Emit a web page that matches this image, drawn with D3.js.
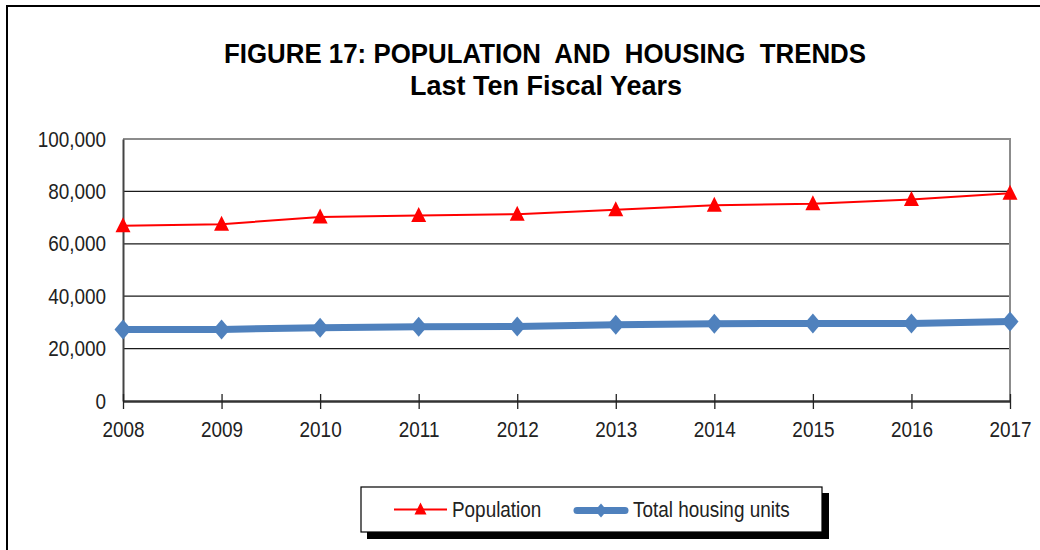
<!DOCTYPE html>
<html>
<head>
<meta charset="utf-8">
<script src="https://cdn.jsdelivr.net/npm/d3@7"></script>
<style>
  html, body { margin: 0; padding: 0; background: #fff; }
  svg { display: block; font-family: Arial, "Liberation Sans", sans-serif; }
</style>
</head>
<body>
<svg id="chart" width="1040" height="550"></svg>
<script>
// Fiscal years and series values
const years = ["2008", "2009", "2010", "2011", "2012", "2013", "2014", "2015", "2016", "2017"];
const population = [66900, 67500, 70200, 70800, 71300, 73000, 74700, 75300, 76900, 79300];
const housingUnits = [27300, 27300, 28000, 28300, 28400, 29100, 29500, 29600, 29600, 30300];
const yTicks = [0, 20000, 40000, 60000, 80000, 100000];

const svg = d3.select("#chart");
const labelFont = 22;   // axis and legend text size
const squeeze = 0.86;   // horizontal narrowing of axis/legend text

// outer frame (top and left edges)
svg.append("path")
  .attr("d", "M7,550 V6 H1040")
  .attr("fill", "none")
  .attr("stroke", "#000")
  .attr("stroke-width", 2);

// titles
svg.append("text")
  .attr("x", 545).attr("y", 62.5)
  .attr("text-anchor", "middle")
  .attr("font-size", 27).attr("font-weight", "bold")
  .attr("textLength", 642).attr("lengthAdjust", "spacingAndGlyphs")
  .attr("xml:space", "preserve")
  .style("white-space", "pre")
  .text("FIGURE 17: POPULATION  AND  HOUSING  TRENDS");
svg.append("text")
  .attr("x", 546).attr("y", 95)
  .attr("text-anchor", "middle")
  .attr("font-size", 27).attr("font-weight", "bold")
  .attr("textLength", 272).attr("lengthAdjust", "spacingAndGlyphs")
  .text("Last Ten Fiscal Years");

const plotLeft = 123, plotRight = 1010, plotTop = 139, plotBottom = 401;
const x = d3.scalePoint().domain(years).range([plotLeft, plotRight]);
const y = d3.scaleLinear().domain([0, 100000]).range([plotBottom, plotTop]);

// horizontal gridlines
svg.append("g")
  .selectAll("line")
  .data(yTicks.filter(d => d > 0 && d < 100000))
  .join("line")
  .attr("x1", plotLeft).attr("x2", plotRight)
  .attr("y1", d => y(d)).attr("y2", d => y(d))
  .attr("stroke", "#1a1a1a").attr("stroke-width", 1.3);

// plot area border (top and right)
svg.append("path")
  .attr("d", `M${plotLeft},${y(100000)} H${plotRight} V${plotBottom}`)
  .attr("fill", "none")
  .attr("stroke", "#8c8c8c").attr("stroke-width", 2);

// y axis
const yPad = 17;
const yAxis = svg.append("g")
  .attr("transform", `translate(${plotLeft},0)`)
  .call(d3.axisLeft(y).tickValues(yTicks).tickSize(0).tickPadding(yPad)
    .tickFormat(d3.format(",")));
yAxis.select(".domain").attr("stroke", "#444").attr("stroke-width", 2);
yAxis.selectAll("text")
  .attr("font-size", labelFont).attr("fill", "#222")
  .attr("font-family", "Arial, 'Liberation Sans', sans-serif")
  .attr("x", 0)
  .attr("transform", `translate(${-yPad},0) scale(${squeeze},1)`);

// x axis with crossing tick marks
const xAxis = svg.append("g")
  .attr("transform", `translate(0,${plotBottom})`)
  .call(d3.axisBottom(x).tickSizeInner(8).tickSizeOuter(0).tickPadding(12));
xAxis.select(".domain").attr("stroke", "#333").attr("stroke-width", 2.5);
xAxis.selectAll(".tick line").attr("y1", -7).attr("y2", 8)
  .attr("stroke", "#222").attr("stroke-width", 1.3);
xAxis.selectAll("text")
  .attr("font-size", labelFont).attr("fill", "#222")
  .attr("font-family", "Arial, 'Liberation Sans', sans-serif")
  .attr("transform", `scale(${squeeze},1)`);

const line = d3.line().x((d, i) => x(years[i])).y(d => y(d));

// total housing units series
svg.append("path")
  .datum(housingUnits)
  .attr("d", line)
  .attr("fill", "none")
  .attr("stroke", "#4F81BD").attr("stroke-width", 7);
svg.append("g")
  .selectAll("path")
  .data(housingUnits)
  .join("path")
  .attr("transform", (d, i) => `translate(${x(years[i])},${y(d)})`)
  .attr("d", "M0,-10 L8.5,0 L0,10 L-8.5,0 Z")
  .attr("fill", "#4F81BD");

// population series
svg.append("path")
  .datum(population)
  .attr("d", line)
  .attr("fill", "none")
  .attr("stroke", "#FF0000").attr("stroke-width", 2);
svg.append("g")
  .selectAll("path")
  .data(population)
  .join("path")
  .attr("transform", (d, i) => `translate(${x(years[i])},${y(d)})`)
  .attr("d", "M0,-8.5 L7.5,6.5 L-7.5,6.5 Z")
  .attr("fill", "#FF0000");

// legend
const legend = svg.append("g");
legend.append("rect")
  .attr("x", 367).attr("y", 493).attr("width", 462).attr("height", 46)
  .attr("fill", "#000");
legend.append("rect")
  .attr("x", 361).attr("y", 487).attr("width", 461).attr("height", 45)
  .attr("fill", "#fff").attr("stroke", "#000").attr("stroke-width", 1.2);

const ly = 509.5;
legend.append("line")
  .attr("x1", 394).attr("x2", 447).attr("y1", ly).attr("y2", ly)
  .attr("stroke", "#FF0000").attr("stroke-width", 2);
legend.append("path")
  .attr("transform", `translate(420.5,${ly})`)
  .attr("d", "M0,-7 L6,5 L-6,5 Z")
  .attr("fill", "#FF0000");
legend.append("text")
  .attr("transform", `translate(452,${ly + 7}) scale(${squeeze},1)`)
  .attr("font-size", labelFont).attr("fill", "#222")
  .text("Population");

legend.append("line")
  .attr("x1", 577).attr("x2", 625).attr("y1", ly + 1).attr("y2", ly + 1)
  .attr("stroke", "#4F81BD").attr("stroke-width", 7)
  .attr("stroke-linecap", "round");
legend.append("path")
  .attr("transform", `translate(601,${ly + 1})`)
  .attr("d", "M0,-7 L6,0 L0,7 L-6,0 Z")
  .attr("fill", "#4F81BD");
legend.append("text")
  .attr("transform", `translate(633,${ly + 7}) scale(${squeeze},1)`)
  .attr("font-size", labelFont).attr("fill", "#222")
  .text("Total housing units");
</script>
</body>
</html>
